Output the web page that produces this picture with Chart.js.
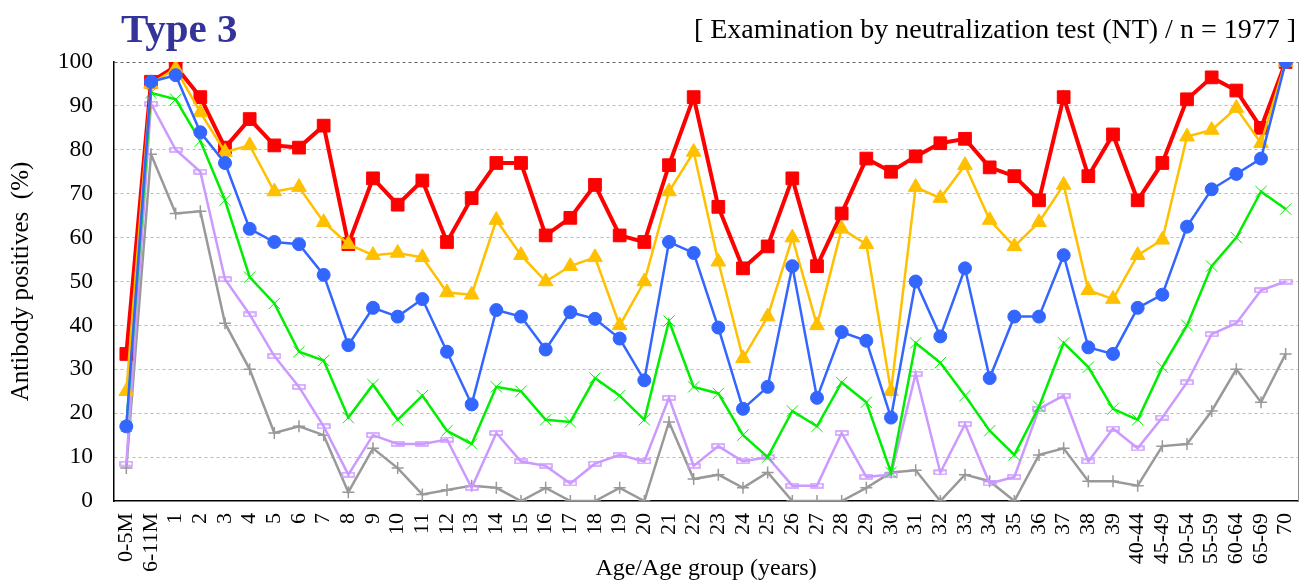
<!DOCTYPE html>
<html>
<head>
<meta charset="utf-8">
<script src="https://cdn.jsdelivr.net/npm/chart.js@4/dist/chart.umd.min.js"></script>
<style>
  html, body { margin: 0; padding: 0; background: #fff; }
  #wrap { width: 1308px; height: 583px; }
</style>
</head>
<body>
<div id="wrap"><canvas id="agechart" width="1308" height="583"></canvas></div>
<script>
const ageGroups = ['0-5M', '6-11M', '1', '2', '3', '4', '5', '6', '7', '8', '9', '10',
  '11', '12', '13', '14', '15', '16', '17', '18', '19', '20', '21', '22', '23', '24',
  '25', '26', '27', '28', '29', '30', '31', '32', '33', '34', '35', '36', '37', '38',
  '39', '40-44', '45-49', '50-54', '55-59', '60-64', '65-69', '70'];

const seriesRed = [33.5, 95.5, 99, 92, 80.5, 87, 81, 80.5, 85.5, 58.5, 73.5, 67.5,
  73, 59, 69, 77, 77, 60.5, 64.5, 72, 60.5, 59, 76.5, 92, 67, 53,
  58, 73.5, 53.5, 65.5, 78, 75, 78.5, 81.5, 82.5, 76, 74, 68.5, 92, 74,
  83.5, 68.5, 77, 91.5, 96.5, 93.5, 85, 100];

const seriesYellow = [25, 95, 98.5, 88.5, 79.5, 81, 70.5, 71.5, 63.5, 58.5, 56, 56.5,
  55.5, 47.5, 47, 64, 56, 50, 53.5, 55.5, 40, 50, 70.5, 79.5, 54.5, 32.5,
  42, 60, 40, 62, 58.5, 25, 71.5, 69, 76.5, 64, 58, 63.5, 72, 48,
  46, 56, 59.5, 83, 84.5, 89.5, 81.5, 100];

const seriesBlue = [17, 95.5, 97, 84, 77, 62, 59, 58.5, 51.5, 35.5, 44, 42,
  46, 34, 22, 43.5, 42, 34.5, 43, 41.5, 37, 27.5, 59, 56.5, 39.5, 21,
  26, 53.5, 23.5, 38.5, 36.5, 19, 50, 37.5, 53, 28, 42, 42, 56, 35,
  33.5, 44, 47, 62.5, 71, 74.5, 78, 100];

const seriesGreen = [17, 93, 91.5, 82, 68.5, 51, 45, 34, 32, 19, 26.5, 18.5,
  24, 16, 13, 26, 25, 18.5, 18, 28, 24, 18.5, 41, 26, 24.5, 15,
  10, 20.5, 17, 27, 22.5, 6.5, 36, 31.5, 24, 16, 10.5, 21.5, 36, 30.5,
  21, 18.5, 30.5, 40, 53.5, 60, 70.5, 66.5];

const seriesPurple = [8.5, 90.5, 80, 75, 50.5, 42.5, 33, 26, 17, 6, 15, 13,
  13, 14, 3, 15.5, 9, 8, 4, 8.5, 10.5, 9, 23.5, 8, 12.5, 9,
  10, 3.5, 3.5, 15.5, 5.5, 6, 29, 6.5, 17.5, 4, 5.5, 21, 24, 9,
  16.5, 12, 19, 27, 38, 40.5, 48, 50];

const seriesGray = [7.5, 79, 65.5, 66, 40.5, 30, 15.5, 17, 15, 2, 12, 7.5,
  1.5, 2.5, 3.5, 3, 0, 3, 0, 0, 3, 0, 18, 5, 6, 3,
  6.5, 0, 0, 0, 3, 6.5, 7, 0, 6, 4.5, 0, 10.5, 12, 4.5,
  4.5, 3.5, 12.5, 13, 20.5, 30, 22.5, 33.5];

const yTicks = [0, 10, 20, 30, 40, 50, 60, 70, 80, 90, 100];

const serif = "'Liberation Serif', 'DejaVu Serif', serif";

// small hollow bar used as the purple marker
const dashMark = document.createElement('canvas');
dashMark.width = 14;
dashMark.height = 6;
(function () {
  const c = dashMark.getContext('2d');
  c.strokeStyle = '#cc99ff';
  c.lineWidth = 1.5;
  c.strokeRect(1, 1, 12, 4);
})();

const headerText = {
  id: 'headerText',
  afterDraw(chart) {
    const c = chart.ctx;
    const area = chart.chartArea;
    c.save();
    c.textBaseline = 'alphabetic';
    c.fillStyle = '#333399';
    c.font = 'bold 41px ' + serif;
    c.textAlign = 'left';
    c.fillText('Type 3', 121, 42);
    c.fillStyle = '#000';
    c.font = '28px ' + serif;
    c.textAlign = 'right';
    c.fillText('[ Examination by neutralization test (NT) / n = 1977 ]', 1296, 38);
    // right border
    c.strokeStyle = '#888';
    c.lineWidth = 1;
    c.beginPath();
    c.moveTo(area.right + 0.5, area.top);
    c.lineTo(area.right + 0.5, area.bottom);
    c.stroke();
    c.restore();
  }
};

function line(label, data, color, width, style, radius, bw) {
  return {
    label: label,
    data: data,
    borderColor: color,
    backgroundColor: color,
    borderWidth: width,
    pointStyle: style,
    pointRadius: radius,
    pointHoverRadius: radius,
    pointBorderWidth: bw,
    pointBorderColor: color,
    pointBackgroundColor: color,
    tension: 0,
    fill: false
  };
}

const ctx = document.getElementById('agechart').getContext('2d');

const chart = new Chart(ctx, {
  type: 'line',
  data: {
    labels: ageGroups,
    datasets: [
      line('Blue', seriesBlue, '#3366ff', 2.5, 'circle', 6.5, 1),
      line('Yellow', seriesYellow, '#ffc000', 2.5, 'triangle', 8.5, 1),
      line('Red', seriesRed, '#ff0000', 4, 'rect', 9, 1),
      line('Green', seriesGreen, '#00ee00', 2.5, 'crossRot', 8, 1),
      line('Purple', seriesPurple, '#cc99ff', 2.5, dashMark, 6, 1),
      line('Gray', seriesGray, '#999999', 2.5, 'cross', 6, 1.5)
    ]
  },
  options: {
    responsive: false,
    animation: false,
    events: [],
    layout: { padding: { top: 62, right: 9, bottom: 0, left: 0 } },
    plugins: {
      legend: { display: false },
      title: { display: false },
      tooltip: { enabled: false }
    },
    scales: {
      x: {
        offset: true,
        grid: { display: false, drawTicks: false },
        border: { display: true, color: '#000', width: 1.5 },
        ticks: {
          autoSkip: false,
          minRotation: 90,
          maxRotation: 90,
          padding: 12,
          color: '#000',
          font: { family: serif, size: 22 }
        },
        title: {
          display: true,
          text: 'Age/Age group (years)',
          color: '#000',
          font: { family: serif, size: 24 },
          padding: { top: 0, bottom: 0 }
        },
        afterFit(scale) {
          scale.height = 82;
          scale.paddingLeft = 0;
          scale.paddingRight = 0;
        }
      },
      y: {
        min: 0,
        max: 100,
        afterBuildTicks(scale) {
          scale.ticks = yTicks.map(v => ({ value: v }));
        },
        grid: {
          drawTicks: false,
          lineWidth: 1,
          color(c) {
            if (c.tick.value === 0) return 'rgba(0,0,0,0)';
            if (c.tick.value === 100) return '#666';
            return '#bbbbbb';
          }
        },
        border: { display: true, color: '#000', width: 1.5, dash: [3, 3] },
        ticks: {
          padding: 21,
          color: '#000',
          font: { family: serif, size: 23.5 }
        },
        title: {
          display: true,
          text: 'Antibody positives  (%)',
          color: '#000',
          font: { family: serif, size: 25 },
          padding: { top: 6, bottom: 0 }
        },
        afterFit(scale) { scale.width = 114; }
      }
    }
  },
  plugins: [headerText]
});
</script>
</body>
</html>
